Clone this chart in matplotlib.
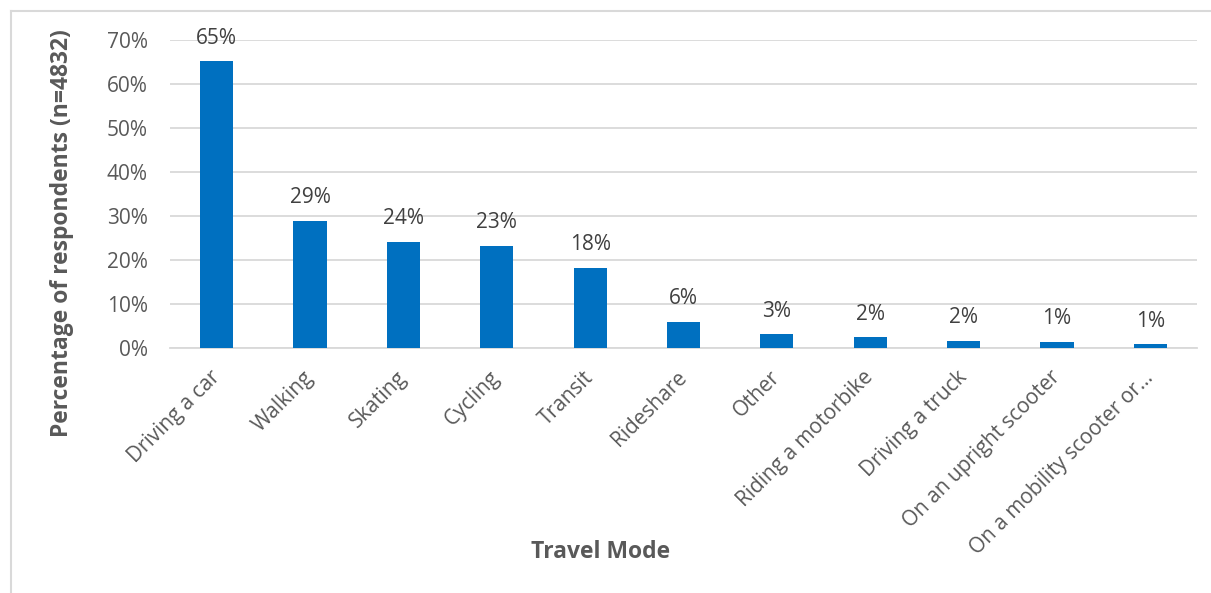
import matplotlib.pyplot as plt
from matplotlib.lines import Line2D
from matplotlib.ticker import FuncFormatter


modes = ["Driving a car", "Walking", "Skating", "Cycling", "Transit", "Rideshare",
         "Other", "Riding a motorbike", "Driving a truck", "On an upright scooter",
         "On a mobility scooter or\u2026"]
shares = [65.2, 28.9, 24.1, 23.2, 18.2, 6.0, 3.1, 2.4, 1.7, 1.4, 0.9]
y_ticks = [0, 10, 20, 30, 40, 50, 60, 70]

BAR_COLOR = "#0070C0"
TEXT_COLOR = "#595959"
GRID_COLOR = "#D9D9D9"

plt.rcParams['font.family'] = ['Open Sans', 'DejaVu Sans']

fig = plt.figure(figsize=(12.11, 5.93), dpi=100)
ax = fig.add_axes([170/1211, 1-348/593, (1197-170)/1211, (348-40)/593])

x = list(range(len(modes)))
bars = ax.bar(x, shares, width=0.355, color=BAR_COLOR, zorder=3)

for xi, v in zip(x, shares):
    ax.annotate(f"{round(v)}%", (xi, v), xytext=(0, 9), textcoords="offset points",
                ha="center", va="bottom", fontsize=15, color="#404040")

ax.set_xlim(-0.5, len(modes) - 0.5)
ax.set_ylim(0, 70)
ax.set_yticks(y_ticks)
ax.yaxis.set_major_formatter(FuncFormatter(lambda v, p: f"{int(v)}%"))
ax.grid(axis="y", color=GRID_COLOR, linewidth=1.3, zorder=0)
ax.set_axisbelow(True)

for s in ["top", "right", "left"]:
    ax.spines[s].set_visible(False)
ax.spines["bottom"].set_color(GRID_COLOR)
ax.spines["bottom"].set_linewidth(1.3)

ax.tick_params(axis="y", length=0, pad=16, labelsize=15, labelcolor=TEXT_COLOR)
ax.tick_params(axis="x", length=0, pad=19, labelsize=15, labelcolor=TEXT_COLOR)
ax.set_xticks(x)
ax.set_xticklabels(modes, rotation=45, ha="right", va="center", rotation_mode="anchor")

ax.set_ylabel("Percentage of respondents (n=4832)", fontsize=16.5, fontweight="bold",
              color=TEXT_COLOR)
ax.yaxis.set_label_coords(-96/1027, (348-233)/308)
fig.text(601/1211, 1-552/593, "Travel Mode", fontsize=16.5, fontweight="bold",
         color=TEXT_COLOR, ha="center", va="center")

# chart border (cropped at right and bottom)
fig.add_artist(Line2D([11/1211, 11/1211], [0, 1-11/593], color=GRID_COLOR, linewidth=1.5,
                      transform=fig.transFigure))
fig.add_artist(Line2D([11/1211, 1], [1-11/593, 1-11/593], color=GRID_COLOR, linewidth=1.5,
                      transform=fig.transFigure))

fig.savefig("out.png", dpi=100)
